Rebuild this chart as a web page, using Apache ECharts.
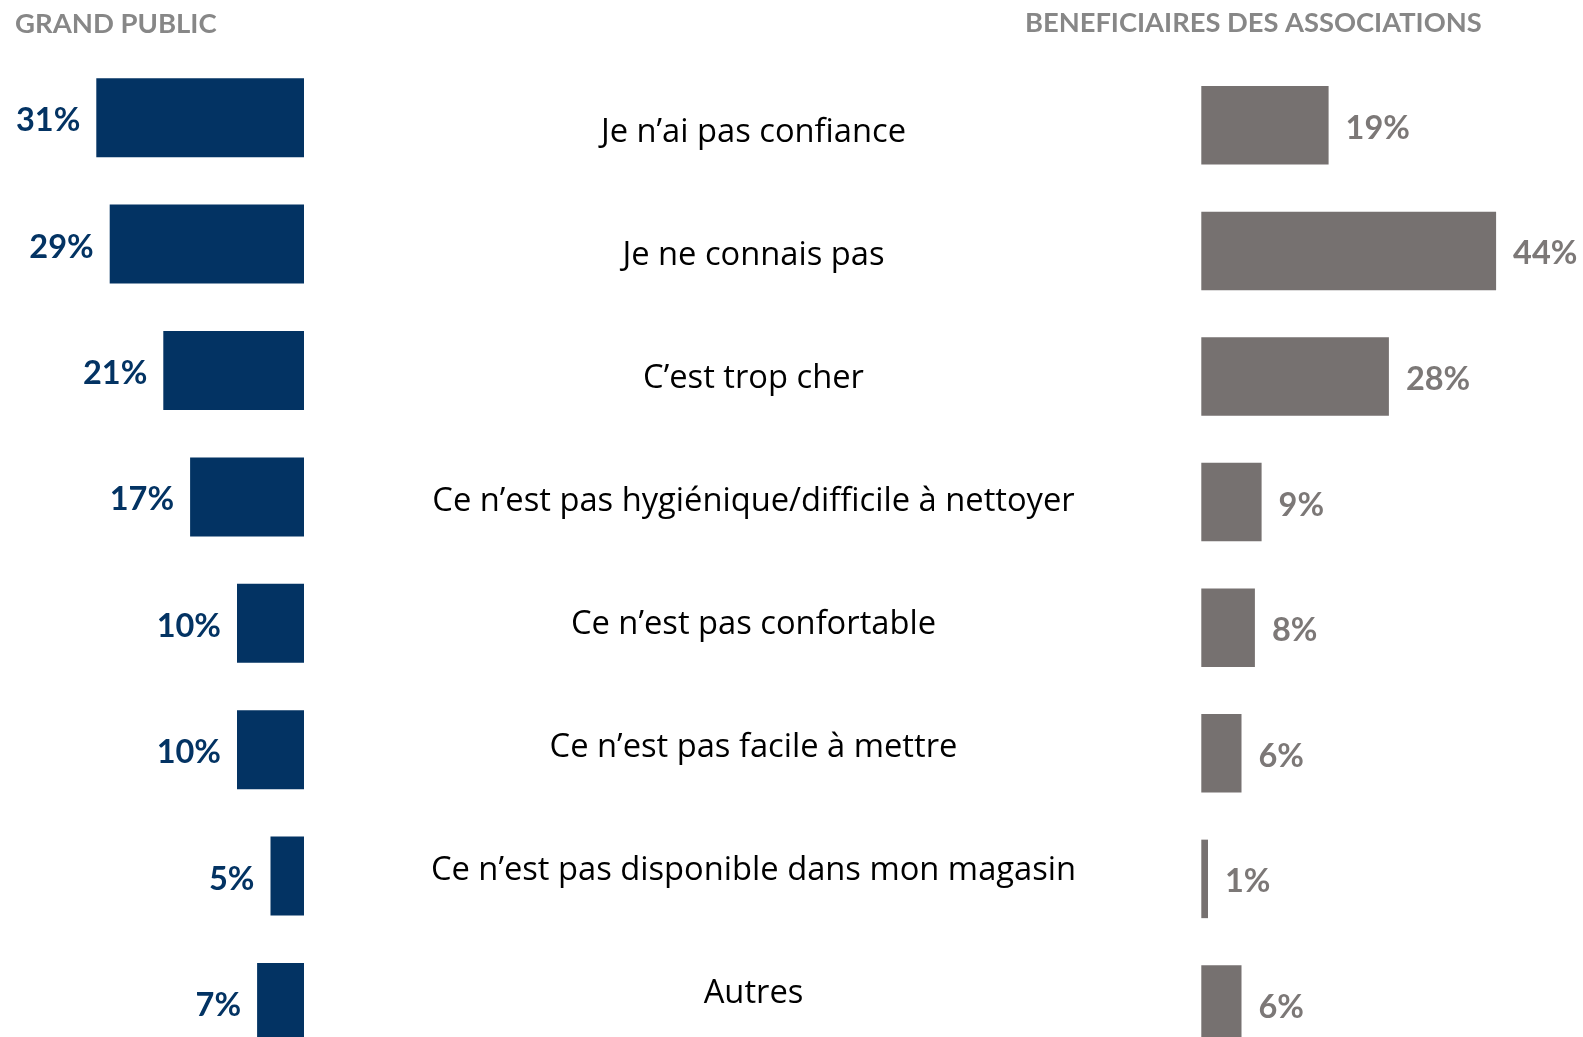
<!DOCTYPE html>
<html>
<head>
<meta charset="utf-8">
<script src="https://cdn.jsdelivr.net/npm/echarts@6/dist/echarts.min.js"></script>
<style>
  html, body { margin: 0; padding: 0; background: #ffffff; }
  #chart { width: 1583px; height: 1037px; }
</style>
</head>
<body>
<div id="chart"></div>
<script>
// Reasons given, shared between the two populations
const categories = [
  'Je n\u2019ai pas confiance',
  'Je ne connais pas',
  'C\u2019est trop cher',
  'Ce n\u2019est pas hygiénique/difficile à nettoyer',
  'Ce n\u2019est pas confortable',
  'Ce n\u2019est pas facile à mettre',
  'Ce n\u2019est pas disponible dans mon magasin',
  'Autres'
];
// Percentages for each population
const grandPublic = [31, 29, 21, 17, 10, 10, 5, 7];
const beneficiaires = [19, 44, 28, 9, 8, 6, 1, 6];
// Panel headings
const titleLeft = 'GRAND PUBLIC';
const titleRight = 'BENEFICIAIRES DES ASSOCIATIONS';

const FONT_BOLD = 'Lato, "Open Sans", sans-serif';
const FONT_TEXT = '"Open Sans", Lato, sans-serif';
const NAVY = '#033363';
const GREY_BAR = '#767170';
const GREY_TXT = '#7c7877';
const GREY_TITLE = '#878787';

const chart = echarts.init(document.getElementById('chart'), null, { renderer: 'canvas' });

const hiddenValueAxis = (gridIndex, max, inverse) => ({
  type: 'value', gridIndex, min: 0, max, inverse,
  show: false, splitLine: { show: false }
});
const hiddenCatAxis = (gridIndex) => ({
  type: 'category', gridIndex, data: categories, inverse: true,
  show: false
});

chart.setOption({
  animation: false,
  backgroundColor: '#ffffff',
  textStyle: { fontFamily: FONT_TEXT },
  title: [
    { text: titleLeft, left: 15, top: 10, padding: 0,
      textStyle: { fontFamily: FONT_BOLD, fontWeight: 'bold', fontSize: 27.5, color: GREY_TITLE } },
    { text: titleRight, left: 1025, top: 10, padding: 0,
      textStyle: { fontFamily: FONT_BOLD, fontWeight: 'bold', fontSize: 27.3, color: GREY_TITLE } }
  ],
  grid: [
    // left panel (bars grow leftwards from the centre column)
    { left: 36, width: 268, top: 54.5, height: 1011.2, outerBoundsMode: 'none' },
    // right panel
    { left: 1201.3, width: 335, top: 62.5, height: 1004.8, outerBoundsMode: 'none' },
    // centre column carrying the reason labels
    { left: 753.5, width: 1, top: 71.5, height: 983.2, outerBoundsMode: 'none' }
  ],
  xAxis: [
    hiddenValueAxis(0, 40, true),
    hiddenValueAxis(1, 50, false),
    hiddenValueAxis(2, 1, false)
  ],
  yAxis: [
    hiddenCatAxis(0),
    hiddenCatAxis(1),
    {
      type: 'category', gridIndex: 2, data: categories, inverse: true,
      axisLine: { show: false }, axisTick: { show: false }, splitLine: { show: false },
      axisLabel: {
        show: true, margin: 0, align: 'center', verticalAlign: 'middle',
        fontFamily: FONT_TEXT, fontSize: 32.7, color: '#000000'
      }
    }
  ],
  series: [
    {
      name: titleLeft, type: 'bar', xAxisIndex: 0, yAxisIndex: 0,
      data: grandPublic, barWidth: 79,
      itemStyle: { color: NAVY },
      label: {
        show: true, position: 'left', distance: 16, offset: [0, 3],
        formatter: '{c}%', fontFamily: FONT_BOLD, fontWeight: 'bold',
        fontSize: 32.5, color: NAVY
      }
    },
    {
      name: titleRight, type: 'bar', xAxisIndex: 1, yAxisIndex: 1,
      data: beneficiaires, barWidth: 78.5,
      itemStyle: { color: GREY_BAR },
      label: {
        show: true, position: 'right', distance: 17, offset: [0, 3],
        formatter: '{c}%', fontFamily: FONT_BOLD, fontWeight: 'bold',
        fontSize: 32.5, color: GREY_TXT
      }
    }
  ]
});
</script>
</body>
</html>
